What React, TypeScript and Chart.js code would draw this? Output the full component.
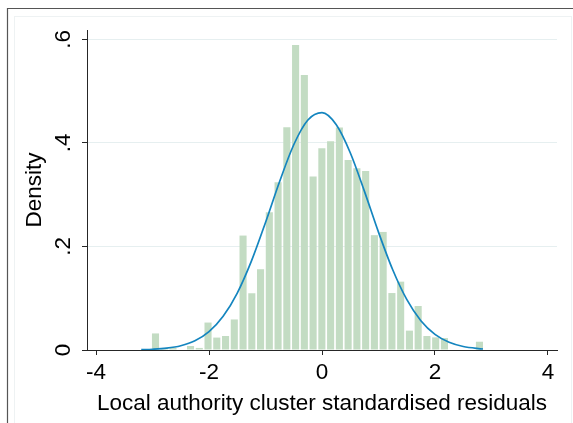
import React, { useEffect, useRef } from "react";
import { Chart, registerables } from "chart.js";

Chart.register(...registerables);

// Histogram bins: equal-width bins starting at binStart
const binStart = -3.025;
const binWidth = 0.155;
const densities = [
  0.032, 0.004, 0.004, 0, 0.0077, 0.004, 0.053, 0.024, 0.027, 0.059,
  0.221, 0.1096, 0.156, 0.266, 0.324, 0.43, 0.589, 0.531, 0.335, 0.3896,
  0.403, 0.4296, 0.367, 0.351, 0.3457, 0.2218, 0.228, 0.11, 0.132, 0.0374,
  0.085, 0.027, 0.0244, 0.023, 0, 0, 0, 0.016,
];

// Normal density overlay
const curveX = [
  -3.2, -3.0, -2.75, -2.5, -2.25, -2.0, -1.75, -1.5, -1.25, -1.0, -0.75, -0.5,
  -0.25, 0, 0.25, 0.5, 0.75, 1.0, 1.25, 1.5, 1.75, 2.0, 2.25, 2.5, 2.85,
];
const curveY = [
  0.0006, 0.0014, 0.0035, 0.0082, 0.0177, 0.0354, 0.065, 0.11, 0.1716, 0.2463,
  0.3255, 0.3964, 0.4441, 0.4583, 0.4354, 0.381, 0.3068, 0.2276, 0.1554,
  0.0976, 0.0565, 0.0301, 0.0148, 0.0067, 0.0019,
];

const xTickValues = [-4, -2, 0, 2, 4];
const xTickLabels = ["-4", "-2", "0", "2", "4"];
const yTickValues = [0, 0.2, 0.4, 0.6];
const yTickLabels = ["0", ".2", ".4", ".6"];

const xTitle = "Local authority cluster standardised residuals";
const yTitle = "Density";

const W = 573;
const H = 423;
const FONT = "'Liberation Sans', Arial, sans-serif";
const AXIS = "#262626";

const framePlugin = {
  id: "graphFrame",
  beforeDraw(chart: any) {
    const ctx = chart.ctx;
    ctx.save();
    ctx.fillStyle = "#ffffff";
    ctx.fillRect(0, 0, W, H);
    // plot region outline
    ctx.strokeStyle = "#eef2f3";
    ctx.lineWidth = 1;
    ctx.strokeRect(14.5, 16.5, 557, H);
    ctx.restore();
  },
  afterDraw(chart: any) {
    const ctx = chart.ctx;
    ctx.save();
    ctx.strokeStyle = "#555555";
    ctx.lineWidth = 1.2;
    ctx.beginPath();
    ctx.moveTo(7.5, H + 2);
    ctx.lineTo(7.5, 8.5);
    ctx.lineTo(W + 2, 8.5);
    ctx.stroke();
    ctx.restore();
  },
};

export default function App() {
  const ref = useRef<HTMLCanvasElement | null>(null);

  useEffect(() => {
    if (!ref.current) return;
    const bars = densities.map((d, i) => ({
      x: binStart + binWidth * (i + 0.5),
      y: d,
    }));
    const curve = curveX.map((x, i) => ({ x, y: curveY[i] }));

    const chart = new Chart(ref.current, {
      type: "bar",
      data: {
        datasets: [
          {
            type: "line",
            data: curve,
            borderColor: "#1485bf",
            borderWidth: 1.7,
            pointRadius: 0,
            cubicInterpolationMode: "monotone",
            fill: false,
            order: 0,
          } as any,
          {
            type: "bar",
            data: bars,
            backgroundColor: "#c3dcc3",
            borderWidth: 0,
            barPercentage: 0.81,
            categoryPercentage: 1,
            order: 1,
          } as any,
        ],
      },
      options: {
        animation: false,
        responsive: false,
        maintainAspectRatio: false,
        layout: { padding: { left: 0, right: 16, top: 30, bottom: 0 } },
        plugins: {
          legend: { display: false },
          tooltip: { enabled: false },
        },
        scales: {
          x: {
            type: "linear",
            offset: false,
            min: -4.16,
            max: 4.16,
            afterFit(scale: any) {
              scale.height = 73;
            },
            afterBuildTicks(scale: any) {
              scale.ticks = xTickValues.map((v) => ({ value: v }));
            },
            border: { color: AXIS, width: 1 },
            grid: {
              offset: false,
              drawOnChartArea: false,
              tickLength: 5,
              tickColor: AXIS,
            },
            ticks: {
              autoSkip: false,
              maxRotation: 0,
              padding: 4,
              color: "#000",
              font: { family: FONT, size: 22.5 },
              callback: (v: any) => xTickLabels[xTickValues.indexOf(Number(v))] ?? "",
            },
            title: {
              display: true,
              text: xTitle,
              color: "#000",
              font: { family: FONT, size: 22.5, lineHeight: 1.2 },
              padding: { top: 0, bottom: 5.6 },
            },
          },
          y: {
            type: "linear",
            min: 0,
            max: 0.618,
            afterFit(scale: any) {
              scale.width = 87;
            },
            afterBuildTicks(scale: any) {
              scale.ticks = yTickValues.map((v) => ({ value: v }));
            },
            border: { color: AXIS, width: 1 },
            grid: {
              color: "#e6eff0",
              lineWidth: 1,
              tickLength: 5,
              tickColor: AXIS,
            },
            ticks: {
              autoSkip: false,
              minRotation: 90,
              maxRotation: 90,
              crossAlign: "center",
              padding: 8.9,
              color: "#000",
              font: { family: FONT, size: 22.5 },
              callback: (v: any) => {
                const i = yTickValues.findIndex((t) => Math.abs(t - Number(v)) < 1e-9);
                return i >= 0 ? yTickLabels[i] : "";
              },
            },
            title: {
              display: true,
              text: yTitle,
              color: "#000",
              font: { family: FONT, size: 22.5, lineHeight: 1.2 },
              padding: { top: 21.5, bottom: 0 },
            },
          },
        },
      },
      plugins: [framePlugin],
    } as any);

    return () => chart.destroy();
  }, []);

  return (
    <div style={{ position: "fixed", left: 0, top: 0, width: W, height: H, background: "#fff" }}>
      <canvas ref={ref} width={W} height={H} style={{ width: W, height: H, display: "block" }} />
    </div>
  );
}
